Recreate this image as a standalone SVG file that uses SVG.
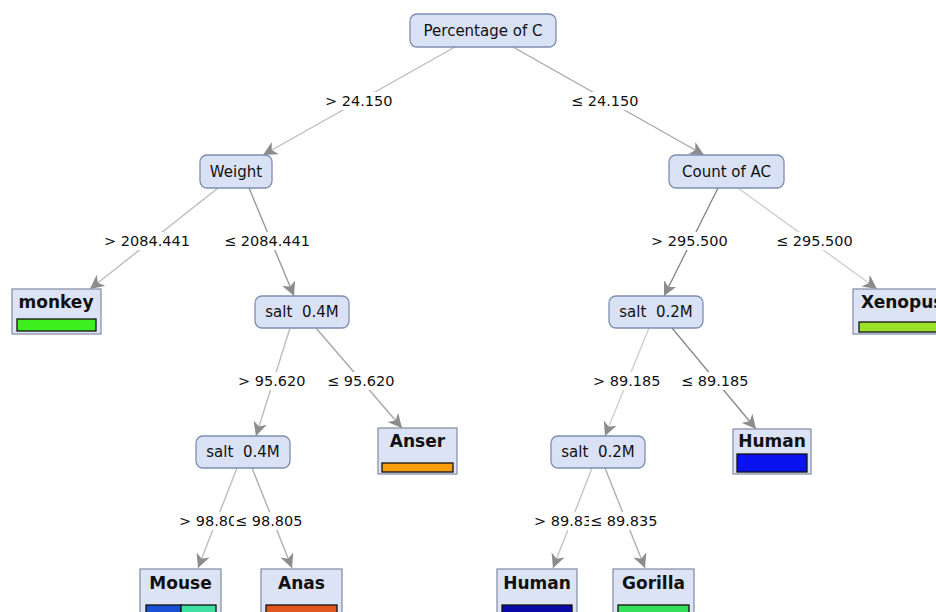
<svg xmlns="http://www.w3.org/2000/svg" width="936" height="612" viewBox="0 0 936 612">
<style>
.node rect{fill:#d9e1f5;stroke:#7f8db0;stroke-width:1.3}
.node text{font-family:"DejaVu Sans",sans-serif;font-size:15px;fill:#111;text-anchor:middle;white-space:pre}
.leaf rect.box{fill:#dce3f4;stroke:#8a93a8;stroke-width:1.3}
.leaf text{font-family:"DejaVu Sans",sans-serif;font-size:17px;font-weight:bold;fill:#111;text-anchor:middle}
.bar{stroke:#111;stroke-width:1.3}
.edge{fill:none;stroke-width:1.4}
.lbl rect{fill:#fff}
.lbl text{font-family:"DejaVu Sans",sans-serif;font-size:14.5px;fill:#111}
</style>
<defs>
<marker id="arr" markerUnits="userSpaceOnUse" markerWidth="16" markerHeight="16" refX="14" refY="7" orient="auto">
<path d="M0,0 L14,7 L0,14 L4,7 z" fill="#8c8c8c"/>
</marker>
</defs>
<rect width="936" height="612" fill="#fff"/>
<g id="connectors">
<line class="edge" x1="455" y1="47" x2="263" y2="155" stroke="#bdbdbd" marker-end="url(#arr)"/>
<line class="edge" x1="513" y1="47" x2="704" y2="155" stroke="#a8a8a8" marker-end="url(#arr)"/>
<line class="edge" x1="218" y1="188" x2="90" y2="289" stroke="#bdbdbd" marker-end="url(#arr)"/>
<line class="edge" x1="249" y1="188" x2="294" y2="296" stroke="#999" marker-end="url(#arr)"/>
<line class="edge" x1="718" y1="188" x2="664" y2="296" stroke="#888" marker-end="url(#arr)"/>
<line class="edge" x1="738" y1="188" x2="877" y2="289" stroke="#cfcfcf" marker-end="url(#arr)"/>
<line class="edge" x1="290" y1="328" x2="256" y2="436" stroke="#bdbdbd" marker-end="url(#arr)"/>
<line class="edge" x1="316" y1="328" x2="402" y2="428" stroke="#a8a8a8" marker-end="url(#arr)"/>
<line class="edge" x1="649" y1="328" x2="605" y2="436" stroke="#cfcfcf" marker-end="url(#arr)"/>
<line class="edge" x1="672" y1="328" x2="756" y2="429" stroke="#8c8c8c" marker-end="url(#arr)"/>
<line class="edge" x1="237" y1="468" x2="198" y2="568" stroke="#bdbdbd" marker-end="url(#arr)"/>
<line class="edge" x1="252" y1="468" x2="292" y2="568" stroke="#b0b0b0" marker-end="url(#arr)"/>
<line class="edge" x1="592" y1="468" x2="553" y2="568" stroke="#c4c4c4" marker-end="url(#arr)"/>
<line class="edge" x1="605" y1="468" x2="645" y2="568" stroke="#b0b0b0" marker-end="url(#arr)"/>
<g class="lbl">
<rect x="322" y="92" width="74" height="18"/><text x="325" y="106">&gt; 24.150</text>
<rect x="568" y="92" width="76" height="18"/><text x="571" y="106">≤ 24.150</text>
<rect x="101" y="232" width="96" height="18"/><text x="104" y="246">&gt; 2084.441</text>
<rect x="221" y="232" width="98" height="18"/><text x="224" y="246">≤ 2084.441</text>
<rect x="648" y="232" width="86" height="18"/><text x="651" y="246">&gt; 295.500</text>
<rect x="773" y="232" width="88" height="18"/><text x="776" y="246">≤ 295.500</text>
<rect x="235" y="372" width="76" height="18"/><text x="238" y="386">&gt; 95.620</text>
<rect x="324" y="372" width="78" height="18"/><text x="327" y="386">≤ 95.620</text>
<rect x="590" y="372" width="76" height="18"/><text x="593" y="386">&gt; 89.185</text>
<rect x="678" y="372" width="78" height="18"/><text x="681" y="386">≤ 89.185</text>
<rect x="176" y="512" width="76" height="18"/><text x="179" y="526">&gt; 98.805</text>
<rect x="234" y="512" width="78" height="18"/><text x="235" y="526">≤ 98.805</text>
<rect x="531" y="512" width="76" height="18"/><text x="534" y="526">&gt; 89.835</text>
<rect x="589" y="512" width="78" height="18"/><text x="590" y="526">≤ 89.835</text>
</g>
</g>
<g id="n-root" class="node"><rect x="410" y="14" width="146" height="33" rx="7"/><text x="483" y="36">Percentage of C</text></g>
<g id="n-weight" class="node"><rect x="200" y="155" width="72" height="33" rx="7"/><text x="236" y="177">Weight</text></g>
<g id="n-countac" class="node"><rect x="669" y="155" width="115" height="33" rx="7"/><text x="726.5" y="177">Count of AC</text></g>
<g id="n-salt4a" class="node"><rect x="255" y="296" width="94" height="32" rx="7"/><text x="302" y="317">salt  0.4M</text></g>
<g id="n-salt4b" class="node"><rect x="196" y="436" width="94" height="32" rx="7"/><text x="243" y="457">salt  0.4M</text></g>
<g id="n-salt2a" class="node"><rect x="609" y="296" width="94" height="32" rx="7"/><text x="656" y="317">salt  0.2M</text></g>
<g id="n-salt2b" class="node"><rect x="551" y="436" width="94" height="32" rx="7"/><text x="598" y="457">salt  0.2M</text></g>
<g id="n-monkey" class="leaf"><rect class="box" x="12" y="289" width="89" height="45"/><text x="56" y="308">monkey</text><rect class="bar" x="17" y="319" width="79" height="12" fill="#3def1c"/></g>
<g id="n-xenopus" class="leaf"><rect class="box" x="853" y="289" width="100" height="45"/><text x="861" y="308" style="text-anchor:start">Xenopus</text><rect class="bar" x="859" y="322" width="90" height="10" fill="#9ae22a"/></g>
<g id="n-anser" class="leaf"><rect class="box" x="378" y="428" width="79" height="46"/><text x="417.5" y="447">Anser</text><rect class="bar" x="382" y="463" width="71" height="9" fill="#f59d0a"/></g>
<g id="n-human1" class="leaf"><rect class="box" x="733" y="429" width="78" height="45"/><text x="772" y="447">Human</text><rect class="bar" x="737" y="454" width="70" height="18" fill="#0a12f0"/></g>
<g id="n-mouse" class="leaf"><rect class="box" x="140" y="569" width="81" height="50"/><text x="180.5" y="589">Mouse</text><rect class="bar" x="146" y="605" width="35" height="12" fill="#1a4fd8"/><rect class="bar" x="181" y="605" width="35" height="12" fill="#3de0a0"/></g>
<g id="n-anas" class="leaf"><rect class="box" x="261" y="569" width="81" height="50"/><text x="301.5" y="589">Anas</text><rect class="bar" x="266" y="605" width="71" height="12" fill="#e0561e"/></g>
<g id="n-human2" class="leaf"><rect class="box" x="497" y="569" width="80" height="50"/><text x="537" y="589">Human</text><rect class="bar" x="502" y="605" width="70" height="12" fill="#0a0aa8"/></g>
<g id="n-gorilla" class="leaf"><rect class="box" x="613" y="569" width="81" height="50"/><text x="653.5" y="589">Gorilla</text><rect class="bar" x="618" y="605" width="71" height="12" fill="#34e05a"/></g>
</svg>
